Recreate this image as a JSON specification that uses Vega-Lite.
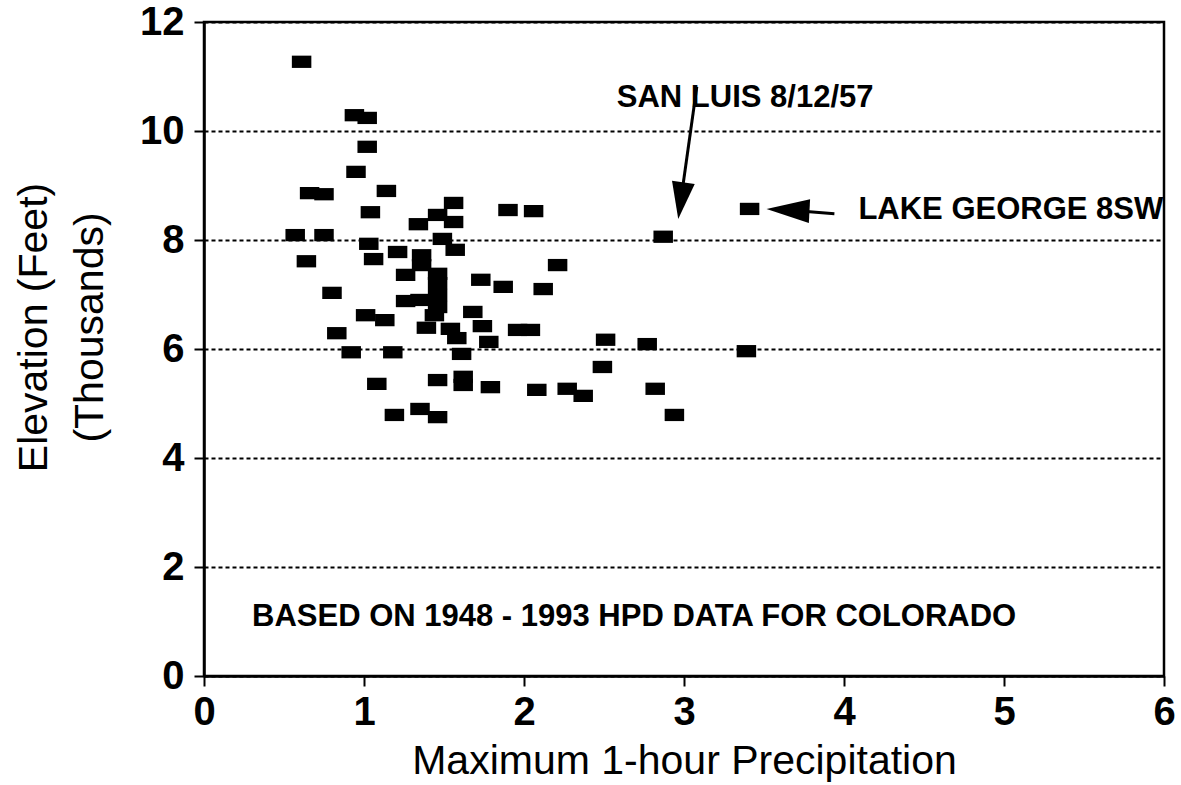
{
  "$schema": "https://vega.github.io/schema/vega-lite/v6.json",
  "width": 960,
  "height": 654,
  "autosize": {"type": "none"},
  "padding": {"left": 204, "top": 22, "right": 17, "bottom": 109},
  "background": "white",
  "config": {
    "font": "Liberation Sans",
    "view": {"stroke": "black", "strokeWidth": 2.5},
    "axis": {
      "domainColor": "black", "domainWidth": 2.5,
      "tickColor": "black", "tickWidth": 2, "tickSize": 10,
      "labelColor": "black", "labelFont": "Liberation Sans", "labelFontSize": 40, "labelFontWeight": "bold",
      "titleColor": "black", "titleFont": "Liberation Sans", "titleFontSize": 41, "titleFontWeight": "normal",
      "gridColor": "black", "gridWidth": 2, "gridDash": [4, 3], "gridOpacity": 1
    }
  },
  "datasets": {
    "pts": [
      {"p":0.61,"e":11.27},{"p":0.94,"e":10.29},{"p":1.02,"e":10.24},{"p":1.02,"e":9.71},{"p":0.95,"e":9.25},
      {"p":0.66,"e":8.86},{"p":0.75,"e":8.84},{"p":1.14,"e":8.90},{"p":1.04,"e":8.51},{"p":1.56,"e":8.68},
      {"p":1.46,"e":8.46},{"p":1.34,"e":8.29},{"p":1.56,"e":8.33},{"p":1.90,"e":8.55},{"p":2.06,"e":8.53},
      {"p":0.57,"e":8.09},{"p":0.75,"e":8.09},{"p":1.03,"e":7.93},{"p":1.49,"e":8.02},{"p":1.57,"e":7.82},
      {"p":0.64,"e":7.61},{"p":1.06,"e":7.65},{"p":1.21,"e":7.78},{"p":1.36,"e":7.72},{"p":1.36,"e":7.54},
      {"p":1.26,"e":7.36},{"p":1.46,"e":7.38},{"p":1.46,"e":7.21},{"p":1.73,"e":7.27},{"p":1.87,"e":7.14},
      {"p":2.21,"e":7.54},{"p":2.12,"e":7.10},{"p":0.80,"e":7.03},{"p":1.26,"e":6.88},{"p":1.35,"e":6.90},
      {"p":1.46,"e":6.99},{"p":1.46,"e":6.77},{"p":1.44,"e":6.62},{"p":1.01,"e":6.62},{"p":1.13,"e":6.53},
      {"p":1.68,"e":6.68},{"p":1.39,"e":6.39},{"p":1.54,"e":6.37},{"p":1.74,"e":6.42},{"p":1.96,"e":6.35},
      {"p":2.04,"e":6.35},{"p":0.83,"e":6.29},{"p":1.58,"e":6.20},{"p":1.78,"e":6.13},{"p":0.92,"e":5.94},
      {"p":1.18,"e":5.94},{"p":1.61,"e":5.91},{"p":1.08,"e":5.36},{"p":1.46,"e":5.43},{"p":1.62,"e":5.49},
      {"p":1.62,"e":5.34},{"p":1.79,"e":5.30},{"p":2.08,"e":5.25},{"p":2.27,"e":5.27},{"p":2.37,"e":5.14},
      {"p":1.19,"e":4.79},{"p":1.35,"e":4.90},{"p":1.46,"e":4.75},{"p":2.51,"e":6.17},{"p":2.77,"e":6.09},
      {"p":3.39,"e":5.96},{"p":2.49,"e":5.67},{"p":2.82,"e":5.27},{"p":2.94,"e":4.79},{"p":2.87,"e":8.06},
      {"p":3.41,"e":8.57}
    ],
    "notes": [
      {"p":2.58,"e":10.44,"t":"SAN LUIS  8/12/57"},
      {"p":4.09,"e":8.39,"t":"LAKE GEORGE 8SW"},
      {"p":0.30,"e":0.92,"t":"BASED ON 1948 - 1993 HPD DATA FOR COLORADO"}
    ],
    "shafts": [
      {"p":3.08,"e":10.81,"p2":2.98,"e2":8.72},
      {"p":3.94,"e":8.48,"p2":3.65,"e2":8.55}
    ],
    "head1": [{"p":2.98,"e":8.72}],
    "head2": [{"p":3.65,"e":8.55}]
  },
  "layer": [
    {
      "data": {"name": "pts"},
      "mark": {"type": "point", "shape": "M-1,-0.63H1V0.63H-1Z", "size": 380, "filled": true, "color": "black", "opacity": 1},
      "encoding": {
        "x": {"field": "p", "type": "quantitative", "scale": {"domain": [0, 6], "nice": false, "zero": true},
          "axis": {"title": "Maximum 1-hour Precipitation", "values": [0,1,2,3,4,5,6], "format": "d", "grid": false,
            "labelPadding": 6, "labelFlush": false, "titleY": 97, "titleBaseline": "alphabetic"}},
        "y": {"field": "e", "type": "quantitative", "scale": {"domain": [0, 12], "nice": false},
          "axis": {"title": ["Elevation (Feet)", "(Thousands)"], "values": [0,2,4,6,8,10,12], "format": "d", "grid": true,
            "labelPadding": 10, "labelFlush": false, "titleLineHeight": 56,
            "titleAngle": -90, "titleBaseline": "top", "titleAlign": "center", "titleX": -190, "titleY": 305}}
      }
    },
    {
      "data": {"name": "shafts"},
      "mark": {"type": "rule", "color": "black", "strokeWidth": 3},
      "encoding": {
        "x": {"field": "p", "type": "quantitative"},
        "y": {"field": "e", "type": "quantitative"},
        "x2": {"field": "p2"},
        "y2": {"field": "e2"}
      }
    },
    {
      "data": {"name": "head1"},
      "mark": {"type": "point", "shape": "M0,1L-0.62,-1L0.62,-1Z", "size": 1369, "angle": 8, "filled": true, "color": "black", "opacity": 1},
      "encoding": {
        "x": {"field": "p", "type": "quantitative"},
        "y": {"field": "e", "type": "quantitative"}
      }
    },
    {
      "data": {"name": "head2"},
      "mark": {"type": "point", "shape": "M0,1L-0.55,-1L0.55,-1Z", "size": 1849, "angle": 93, "filled": true, "color": "black", "opacity": 1},
      "encoding": {
        "x": {"field": "p", "type": "quantitative"},
        "y": {"field": "e", "type": "quantitative"}
      }
    },
    {
      "data": {"name": "notes"},
      "mark": {"type": "text", "align": "left", "baseline": "alphabetic", "fontSize": 31, "fontWeight": "bold", "font": "'Liberation Sans Narrow', 'Liberation Sans'", "color": "black"},
      "encoding": {
        "x": {"field": "p", "type": "quantitative"},
        "y": {"field": "e", "type": "quantitative"},
        "text": {"field": "t"}
      }
    }
  ]
}
